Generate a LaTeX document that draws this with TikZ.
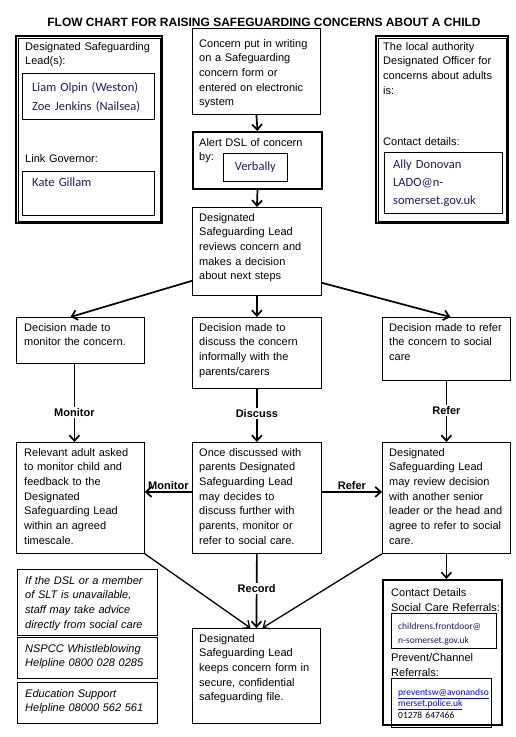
\documentclass[tikz,border=0pt]{standalone}
\usepackage{fontspec}
\setmainfont{Liberation Sans}
\newfontfamily\calibri{Carlito}
\usetikzlibrary{arrows.meta}

\definecolor{namenavy}{HTML}{1E1E5A}
\definecolor{linkblue}{HTML}{0000EE}

\tikzset{
  box/.style={draw, line width=0.8pt, inner sep=0pt, anchor=north west},
  boldbox/.style={box, line width=2pt},
  txt/.style={anchor=base west, inner sep=0pt, align=left, text width=150pt,
    font=\fontsize{11}{14.7}\selectfont},
  itxt/.style={txt, font=\itshape\fontsize{11}{14.7}\selectfont},
  nametxt/.style={txt, text=namenavy, font=\calibri\fontsize{12.5}{19}\selectfont},
  smalltxt/.style={txt, text=namenavy, font=\calibri\fontsize{9.5}{14}\selectfont},
  flow/.style={line width=1.7pt, -{Straight Barb[length=5.5pt,width=10pt]}},
  lab/.style={inner sep=1.5pt, font=\bfseries\fontsize{11}{13}\selectfont},
  cut/.style={lab, fill=white}
}

\begin{document}
\begin{tikzpicture}[x=1pt, y=-1pt]
  \fill[white] (0,0) rectangle (516,737);
  \useasboundingbox (0,0) rectangle (516,737);

  % title
  \node[anchor=base, inner sep=0pt, font=\bfseries\fontsize{12}{14}\selectfont] (title) at (264,26)
    {FLOW CHART FOR RAISING SAFEGUARDING CONCERNS ABOUT A CHILD};

  % left info panel
  \node[box, line width=2.2pt, minimum width=146pt, minimum height=187pt] (info) at (15,35) {};
  \draw[line width=0.7pt] ([shift={(3,3)}]info.north west) rectangle ([shift={(-3,-3)}]info.south east);
  \node[txt] (infoT) at (25,50) {Designated Safeguarding\\Lead(s):};
  \node[box, minimum width=132pt, minimum height=46pt] (leads) at (22,73) {};
  \node[nametxt] (leadsT) at (32,91) {Liam Olpin (Weston)\\Zoe Jenkins (Nailsea)};
  \node[txt] (govT) at (25,162) {Link Governor:};
  \node[box, minimum width=132pt, minimum height=44pt] (gov) at (22,171) {};
  \node[nametxt] (govN) at (32,186) {Kate Gillam};

  % right info panel
  \node[box, line width=2.2pt, minimum width=132pt, minimum height=187pt] (lado) at (375,35) {};
  \draw[line width=0.7pt] ([shift={(3,3)}]lado.north west) rectangle ([shift={(-3,-3)}]lado.south east);
  \node[txt] (ladoT) at (383,50) {The local authority\\Designated Officer for\\concerns about adults\\is:};
  \node[txt] (ladoC) at (383,145) {Contact details:};
  \node[box, minimum width=118pt, minimum height=61pt] (ladobox) at (384,152) {};
  \node[nametxt, font=\calibri\fontsize{12.5}{18}\selectfont] (ladoN) at (393,168)
    {Ally Donovan\\LADO@n-\\somerset.gov.uk};

  % middle column
  \node[box, minimum width=128pt, minimum height=86pt] (concern) at (192,28) {};
  \node[txt] (concernT) at (199,47) {Concern put in writing\\on a Safeguarding\\concern form or\\entered on electronic\\system};
  \node[boldbox, minimum width=129pt, minimum height=57pt] (alert) at (192,131) {};
  \node[txt] (alertT) at (199,146) {Alert DSL of concern\\by:};
  \node[box, minimum width=64pt, minimum height=28pt, text=namenavy,
    font=\calibri\fontsize{12.5}{15}\selectfont] (verb) at (223,153) {Verbally};
  \node[box, minimum width=129pt, minimum height=88pt] (review) at (192,207) {};
  \node[txt] (reviewT) at (199,221) {Designated\\Safeguarding Lead\\reviews concern and\\makes a decision\\about next steps};

  % decisions
  \node[box, minimum width=128pt, minimum height=46pt] (mon) at (16,317) {};
  \node[txt] (monT) at (24,331) {Decision made to\\monitor the concern.};
  \node[box, minimum width=129pt, minimum height=71pt] (disc) at (192,317) {};
  \node[txt] (discT) at (199,331) {Decision made to\\discuss the concern\\informally with the\\parents/carers};
  \node[box, minimum width=128pt, minimum height=63pt] (ref) at (382,317) {};
  \node[txt] (refT) at (389,331) {Decision made to refer\\the concern to social\\care};

  % outcomes
  \node[box, minimum width=128pt, minimum height=111pt] (relm) at (16,442) {};
  \node[txt] (relmT) at (24,456) {Relevant adult asked\\to monitor child and\\feedback to the\\Designated\\Safeguarding Lead\\within an agreed\\timescale.};
  \node[box, minimum width=129pt, minimum height=111pt] (once) at (192,442) {};
  \node[txt] (onceT) at (199,456) {Once discussed with\\parents Designated\\Safeguarding Lead\\may decides to\\discuss further with\\parents, monitor or\\refer to social care.};
  \node[box, minimum width=128pt, minimum height=111pt] (desg) at (382,442) {};
  \node[txt] (desgT) at (389,456) {Designated\\Safeguarding Lead\\may review decision\\with another senior\\leader or the head and\\agree to refer to social\\care.};

  % record
  \node[box, minimum width=128pt, minimum height=95pt] (rec) at (192,628) {};
  \node[txt] (recT) at (199,642) {Designated\\Safeguarding Lead\\keeps concern form in\\secure, confidential\\safeguarding file.};

  % help lines
  \node[box, minimum width=140pt, minimum height=66pt] (help) at (17,569) {};
  \node[itxt] (helpT) at (25,584) {If the DSL or a member\\of SLT is unavailable,\\staff may take advice\\directly from social care};
  \node[box, minimum width=140pt, minimum height=41pt] (nspcc) at (17,637) {};
  \node[itxt] (nspccT) at (25,652) {NSPCC Whistleblowing\\Helpline 0800 028 0285};
  \node[box, minimum width=140pt, minimum height=41pt] (edu) at (17,682) {};
  \node[itxt] (eduT) at (25,697) {Education Support\\Helpline 08000 562 561};

  % contact details
  \node[boldbox, line width=2.2pt, minimum width=119pt, minimum height=145pt] (cont) at (382,579) {};
  \node[txt, font=\fontsize{11}{15}\selectfont] (contT) at (391,596) {Contact Details\\Social Care Referrals:};
  \node[box, minimum width=105pt, minimum height=35pt] (front) at (391,613) {};
  \node[smalltxt] (frontT) at (398,629) {childrens.frontdoor@\\n-somerset.gov.uk};
  \node[txt, font=\fontsize{11}{15}\selectfont] (prevT) at (391,661) {Prevent/Channel\\Referrals:};
  \node[box, minimum width=100pt, minimum height=49pt] (prev) at (391,678) {};
  \node[smalltxt, text=black, font=\calibri\fontsize{9.5}{11.5}\selectfont] (prevN) at (398,695)
    {\textcolor{linkblue}{\underline{preventsw@avonandso}}\\\textcolor{linkblue}{\underline{merset.police.uk}}\\01278 647466};

  % connectors
  \draw[flow] (concern.south) -- (alert.north);
  \draw[flow] (alert.south) -- (review.north);
  \draw[flow] ([yshift=15pt]review.south west) -- ([xshift=-10pt]mon.north);
  \draw[flow] (review.south) -- (disc.north);
  \draw[flow] ([yshift=13pt]review.south east) -- ([xshift=4pt]ref.north);
  \draw[flow] ([xshift=-6pt]mon.south) -- node[cut, pos=0.62] {Monitor} ([xshift=-6pt]relm.north);
  \draw[flow] (disc.south) -- node[cut, pos=0.46] {Discuss} (once.north);
  \draw[flow] (ref.south) -- node[cut, pos=0.48] {Refer} (desg.north);
  \draw[flow] ([yshift=6pt]once.west) -- node[lab, midway, above] {Monitor} ([yshift=6pt]relm.east);
  \draw[flow] ([yshift=6pt]once.east) -- node[lab, midway, above] {Refer} ([yshift=6pt]desg.west);
  \draw[flow, line width=1.3pt] (relm.south east) -- ([xshift=-6pt]rec.north);
  \draw[flow] (once.south) -- node[cut, pos=0.47] {Record} (rec.north);
  \draw[flow, line width=1.3pt] (desg.south west) -- ([xshift=6pt]rec.north);
  \draw[flow] (desg.south) -- (desg.south |- cont.north);
\end{tikzpicture}
\end{document}
